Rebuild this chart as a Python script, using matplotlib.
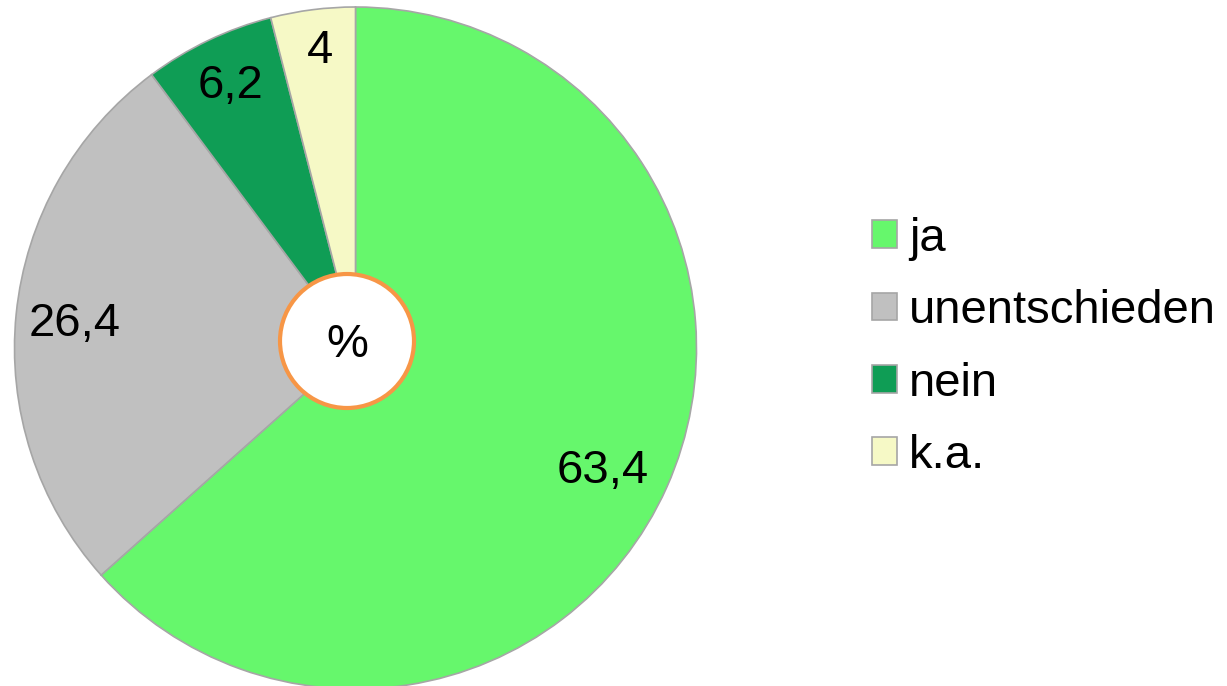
import matplotlib.pyplot as plt
import numpy as np

plt.rcParams['font.family'] = ['Liberation Sans', 'DejaVu Sans']

labels = ['ja', 'unentschieden', 'nein', 'k.a.']
values = [63.4, 26.4, 6.2, 4]
value_text = ['63,4', '26,4', '6,2', '4']
colors = ['#66F76C', '#C0C0C0', '#0F9D55', '#F6F9C6']
# Abstand / Winkelversatz der Beschriftungen
label_dist = [0.81, 0.826, 0.852, 0.877]
label_shift = [-2.3, 0.9, 0.0, -0.4]

fig = plt.figure(figsize=(12.27, 6.86), dpi=100)
ax = fig.add_axes([0, 0, 1, 1])

cx, cy, r = 355.5, 686 - 348, 341
wedges, _ = ax.pie(values, colors=colors, startangle=90, counterclock=False,
                   center=(cx, cy), radius=r, frame=True,
                   wedgeprops=dict(edgecolor='#A6A6A6', linewidth=1.2))
ax.set_xlim(0, 1227)
ax.set_ylim(0, 686)
ax.set_aspect('equal')
ax.axis('off')

for w, t, d, s in zip(wedges, value_text, label_dist, label_shift):
    ang = np.deg2rad((w.theta1 + w.theta2) / 2 + s)
    ax.text(cx + d * r * np.cos(ang), cy + d * r * np.sin(ang), t,
            fontsize=34, ha='center', va='center')

# Kreis in der Mitte
circ = plt.Circle((347, 686 - 341), 67, facecolor='white', edgecolor='#F79646', linewidth=3)
ax.add_patch(circ)
ax.text(347, 686 - 345, '%', fontsize=34, ha='center', va='center')

leg = ax.legend(wedges, labels, loc='upper left', bbox_to_anchor=(853 / 1227, 1 - 198 / 686),
                frameon=False, fontsize=34, handlelength=0.53, handleheight=0.53,
                handletextpad=0.25, labelspacing=0.6, borderaxespad=0)
for h in leg.legend_handles:
    h.set_edgecolor('#A6A6A6')

fig.savefig('out.png', dpi=100)
